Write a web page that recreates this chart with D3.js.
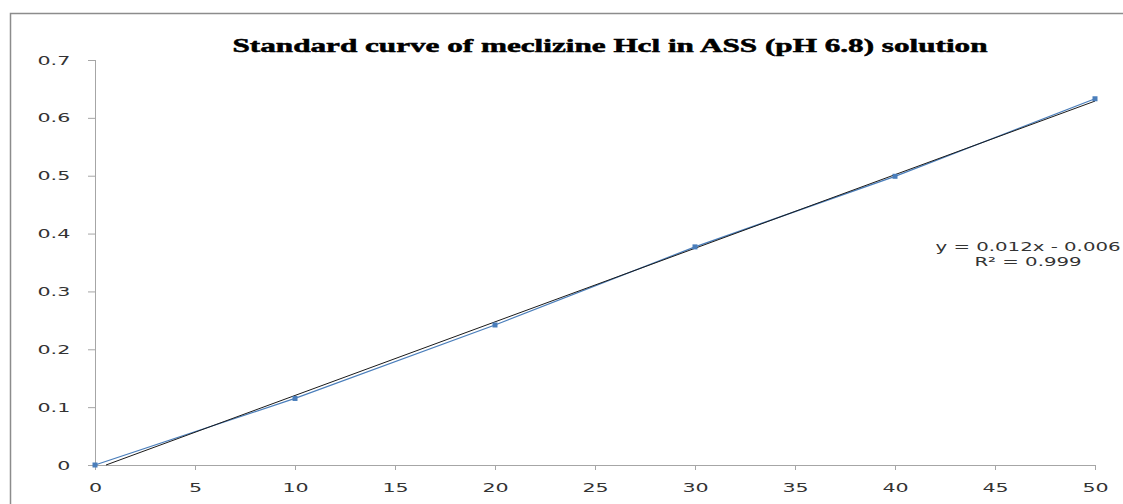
<!DOCTYPE html>
<html>
<head>
<meta charset="utf-8">
<script src="https://cdn.jsdelivr.net/npm/d3@7"></script>
<style>
  body { margin: 0; background: #fff; }
  .axis path, .axis line { stroke: #a6a6a6; }
  .axis text { font-family: "DejaVu Sans", sans-serif; font-size: 12.5px; fill: #333; }
</style>
</head>
<body>
<div id="chart"></div>
<script>
// Data
var concentration = [0, 10, 20, 30, 40, 50];
var absorbance = [0, 0.115, 0.242, 0.377, 0.499, 0.633];
var xTicks = [0, 5, 10, 15, 20, 25, 30, 35, 40, 45, 50];
var yTicks = [0, 0.1, 0.2, 0.3, 0.4, 0.5, 0.6, 0.7];
var titleText = "Standard curve of meclizine Hcl in ASS (pH 6.8) solution";
var eqLine1 = "y = 0.012x - 0.006";
var eqLine2 = "R² = 0.999";

// Sizing
var svgWidth = 1123;
var svgHeight = 504;
var margin = { top: 60, right: 28, bottom: 39, left: 95 };
var width = svgWidth - margin.left - margin.right;
var height = svgHeight - margin.top - margin.bottom;
var stretch = 1.65;

var svg = d3.select("#chart")
  .append("svg")
  .attr("width", svgWidth)
  .attr("height", svgHeight);

// outer chart frame (top + left edges visible)
svg.append("path")
  .attr("d", "M10.5,504 L10.5,13.5 L1123,13.5")
  .attr("fill", "none")
  .attr("stroke", "#8c8c8c")
  .attr("stroke-width", 1.5);

var chartGroup = svg.append("g")
  .attr("transform", `translate(${margin.left}, ${margin.top})`);

// scales
var xScale = d3.scaleLinear().domain([0, 50]).range([0, width]);
var yScale = d3.scaleLinear().domain([0, 0.7]).range([height, 0]);

// axes
var bottomAxis = d3.axisBottom(xScale).tickValues(xTicks).tickSize(5).tickPadding(13).tickFormat(d3.format("d"));
var leftAxis = d3.axisLeft(yScale).tickValues(yTicks).tickSize(7).tickPadding(8)
  .tickFormat(d => d === 0 ? "0" : d3.format(".1f")(d));

var xAxisG = chartGroup.append("g")
  .attr("class", "axis")
  .attr("transform", `translate(0, ${height})`)
  .call(bottomAxis);
xAxisG.select(".domain").attr("d", `M0.5,0.5H${width}`);
xAxisG.selectAll("text").attr("transform", `scale(${stretch},1)`);

var yAxisG = chartGroup.append("g")
  .attr("class", "axis")
  .call(leftAxis);
yAxisG.select(".domain").attr("d", `M0.5,0V${height}`);
yAxisG.selectAll("text").attr("transform", `scale(${stretch},1)`);

// linear regression for trendline
var mx = d3.mean(concentration), my = d3.mean(absorbance);
var sxy = d3.sum(concentration, (x, i) => (x - mx) * (absorbance[i] - my));
var sxx = d3.sum(concentration, x => (x - mx) * (x - mx));
var slope = sxy / sxx;
var intercept = my - slope * mx;
var xStart = Math.max(0, -intercept / slope);
var trend = [[xStart, slope * xStart + intercept], [50, slope * 50 + intercept]];

var points = concentration.map((x, i) => [x, absorbance[i]]);

// data series line
chartGroup.append("path")
  .datum(points)
  .attr("fill", "none")
  .attr("stroke", "#4a7ebb")
  .attr("stroke-width", 1.3)
  .attr("d", d3.line().x(d => xScale(d[0])).y(d => yScale(d[1])));

// trendline
chartGroup.append("path")
  .datum(trend)
  .attr("fill", "none")
  .attr("stroke", "#1a1a1a")
  .attr("stroke-width", 1)
  .attr("d", d3.line().x(d => xScale(d[0])).y(d => yScale(d[1])));

// markers
chartGroup.selectAll("rect.marker")
  .data(points)
  .enter()
  .append("rect")
  .attr("class", "marker")
  .attr("x", d => xScale(d[0]) - 2.5)
  .attr("y", d => yScale(d[1]) - 2.5)
  .attr("width", 5)
  .attr("height", 5)
  .attr("fill", "#4a7ebb");

// title
svg.append("text")
  .attr("x", 610)
  .attr("y", 52)
  .attr("text-anchor", "middle")
  .attr("textLength", 755)
  .attr("lengthAdjust", "spacingAndGlyphs")
  .style("font-family", "'Liberation Serif', 'Times New Roman', serif")
  .style("font-weight", "bold")
  .style("font-size", "18.5px")
  .style("fill", "#000")
  .style("stroke", "#000")
  .style("stroke-width", 0.5)
  .text(titleText);

// equation label
[eqLine1, eqLine2].forEach(function(t, i) {
  svg.append("text")
    .attr("transform", `translate(1028, ${251 + i * 15}) scale(1.58,1)`)
    .attr("text-anchor", "middle")
    .style("font-family", "'DejaVu Sans', sans-serif")
    .style("font-size", "12.5px")
    .style("fill", "#333")
    .text(t);
});
</script>
</body>
</html>
